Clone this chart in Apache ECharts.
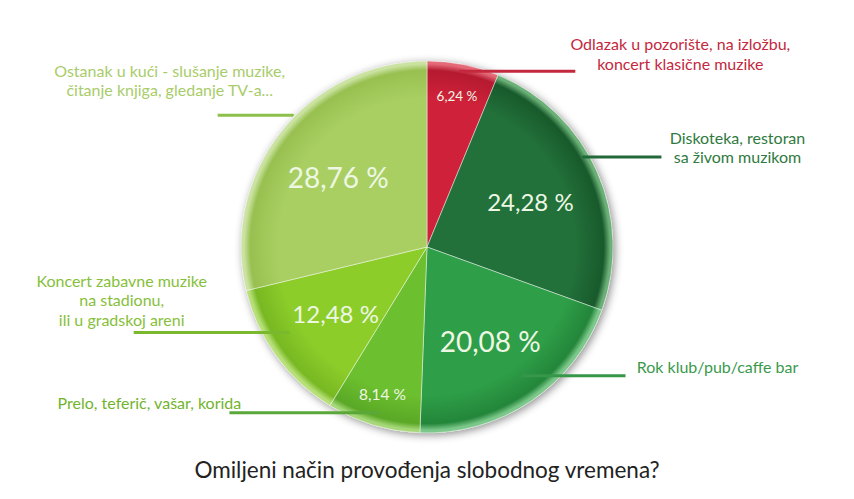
<!DOCTYPE html>
<html>
<head>
<meta charset="utf-8">
<script src="https://cdn.jsdelivr.net/npm/echarts@6/dist/echarts.min.js"></script>
<style>
  html, body { margin: 0; padding: 0; background: #fff; }
  #chart { width: 854px; height: 499px; }
</style>
</head>
<body>
<div id="chart"></div>
<script>
// podaci
const categories = [
  "Odlazak u pozorište, na izložbu,\nkoncert klasične muzike",
  "Diskoteka, restoran\nsa živom muzikom",
  "Rok klub/pub/caffe bar",
  "Prelo, teferič, vašar, korida",
  "Koncert zabavne muzike\nna stadionu,\nili u gradskoj areni",
  "Ostanak u kući - slušanje muzike,\nčitanje knjiga, gledanje TV-a..."
]
const values = [6.24, 24.28, 20.08, 8.14, 12.48, 28.76]
const chartTitle = "Omiljeni način provođenja slobodnog vremena?"

// boje
const baseColors = ["#d0213a", "#22703a", "#2e9e48", "#6cbf2e", "#8ccd2a", "#a9cf62"]
const edgeColors = ["#b51a30", "#185a2b", "#23863a", "#5aa826", "#78b822", "#98c050"]
const rimColors = ["#e46a78", "#6ab077", "#7cc88a", "#a6d879", "#b8e07a", "#cbe3a2"]
const textColors = ["#c4283e", "#2f7a40", "#3a9a4c", "#72b32e", "#86c03a", "#a8cc6a"]
const lineColors = ["#c4283e", "#23683a", "#36964a", "#5aa83a", "#7ab82e", "#8cc04a"]

// raspored oznaka (stil)
const innerFont = [13.5, 24, 28, 15.5, 24, 28]
const smallRing = [true, false, false, true, false, false]
const lineLen2 = [115, 78, 103, 148, 155, 75]
const lineShift = [-8, -21, -13, 2, -15, -26]
const textOffset = [[105, -18], [76, -10], [92, -9], [-80, -10], [-12, -33], [-48, -35]]

const cx = 427, cy = 247, R = 186
const fontFam = "Lato, 'Open Sans', sans-serif"

const fmtPct = v => v.toFixed(2).replace(".", ",") + " %"

let mainData = values.map((v, i) => ({
  value: v,
  name: categories[i],
  itemStyle: {
    color: {
      type: "radial", x: cx, y: cy, r: R, global: true,
      colorStops: [
        { offset: 0, color: baseColors[i] },
        { offset: 0.8, color: baseColors[i] },
        { offset: 0.95, color: edgeColors[i] },
        { offset: 0.985, color: rimColors[i] },
        { offset: 1, color: rimColors[i] }
      ]
    }
  }
}))

//oznake procenata unutar kruga
let innerData = ring => values.map((v, i) => ({
  value: v,
  name: categories[i],
  label: {
    show: smallRing[i] === ring,
    fontSize: innerFont[i]
  }
}))

let outerData = values.map((v, i) => ({
  value: v,
  name: categories[i],
  label: { color: textColors[i] },
  labelLine: {
    length2: lineLen2[i],
    lineStyle: { color: lineColors[i] }
  }
}))

const labelSeriesBase = {
  type: "pie",
  center: [cx, cy],
  startAngle: 90,
  silent: true,
  avoidLabelOverlap: false,
  itemStyle: { color: "rgba(0,0,0,0)" },
  emphasis: { disabled: true },
  animation: false
}

let option = {
  backgroundColor: "#fff",
  title: {
    text: chartTitle,
    left: "center",
    top: 453,
    textStyle: { fontFamily: fontFam, fontSize: 22.5, fontWeight: "normal", color: "#222" }
  },
  series: [
    {
      // senka kruga
      type: "pie",
      center: [cx, cy],
      radius: R,
      silent: true,
      animation: false,
      label: { show: false },
      labelLine: { show: false },
      itemStyle: {
        color: "#d8d8d8",
        shadowBlur: 8,
        shadowColor: "rgba(0,0,0,0.45)",
        shadowOffsetX: 2,
        shadowOffsetY: 2
      },
      data: [{ value: 1 }]
    },
    {
      type: "pie",
      center: [cx, cy],
      radius: R,
      startAngle: 90,
      animation: false,
      label: { show: false },
      labelLine: { show: false },
      itemStyle: { borderColor: "rgba(255,255,255,0.45)", borderWidth: 1 },
      emphasis: { disabled: true },
      data: mainData
    },
    Object.assign({}, labelSeriesBase, {
      radius: [0, 220],
      label: {
        position: "inside",
        fontFamily: fontFam,
        color: "#eef7e4",
        formatter: p => fmtPct(p.value)
      },
      labelLine: { show: false },
      data: innerData(false)
    }),
    Object.assign({}, labelSeriesBase, {
      radius: [116, 186],
      label: {
        position: "inside",
        fontFamily: fontFam,
        color: "#eef7e4",
        formatter: p => fmtPct(p.value)
      },
      labelLine: { show: false },
      data: innerData(true)
    }),
    Object.assign({}, labelSeriesBase, {
      radius: 170,
      z: 5,
      label: {
        position: "outside",
        fontFamily: fontFam,
        fontSize: 16,
        lineHeight: 19.5,
        formatter: "{b}"
      },
      labelLine: {
        show: true,
        length: 1,
        minTurnAngle: 0,
        maxSurfaceAngle: 180,
        lineStyle: { width: 3 }
      },
      labelLayout: params => {
        const i = params.dataIndex
        const pts = params.labelLinePoints.map(p => [p[0], p[1] + lineShift[i]])
        const end = pts[pts.length - 1]
        return {
          x: end[0] + textOffset[i][0],
          y: end[1] + textOffset[i][1],
          align: "center",
          verticalAlign: "middle",
          labelLinePoints: pts
        }
      },
      data: outerData
    })
  ]
}

let chartEl = echarts.init(document.getElementById("chart"), null, { renderer: "svg" })
chartEl.setOption(option)
</script>
</body>
</html>
